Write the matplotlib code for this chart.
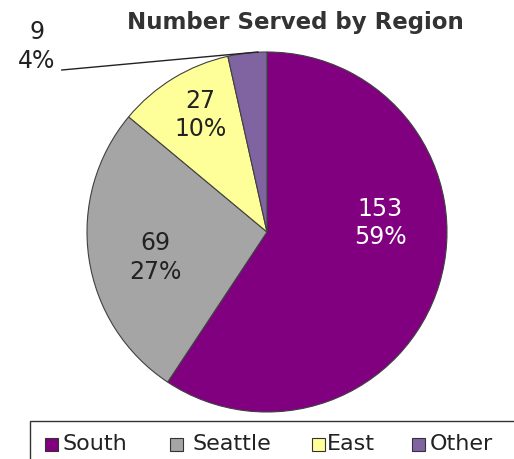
import matplotlib
matplotlib.use("Agg")
import matplotlib.pyplot as plt
from matplotlib.patches import Rectangle

# data
regions = ["South", "Seattle", "East", "Other"]
served = [153, 69, 27, 9]
pct_labels = ["59%", "27%", "10%", "4%"]
colors = ["#800080", "#A5A5A5", "#FFFF99", "#8064A2"]

W, H = 514, 459
fig = plt.figure(figsize=(W / 100, H / 100), dpi=100)
ax = fig.add_axes([87 / W, 47 / H, 360 / W, 360 / H])

wedges, _ = ax.pie(served, colors=colors, startangle=90, counterclock=False,
                   radius=1, wedgeprops=dict(edgecolor="#404040", linewidth=0.8))
ax.set_xlim(-1, 1)
ax.set_ylim(-1, 1)
ax.set_aspect("equal")
ax.axis("off")

# label placement (axes data units)
label_xy = [(0.63, 0.05), (-0.62, -0.14), (-0.37, 0.65), (-1.28, 1.03)]
label_colors = ["white", "#222222", "#222222", "#222222"]
for i, (x, y) in enumerate(label_xy):
    ax.text(x, y, f"{served[i]}\n{pct_labels[i]}", ha="center", va="center",
            fontsize=17, color=label_colors[i], linespacing=1.25,
            clip_on=False)

# leader line for the small slice
ax.plot([-1.14, -0.05], [0.90, 1.0], color="#222222", lw=1, clip_on=False)

fig.text(295 / W, 1 - 22 / H, "Number Served by Region", ha="center",
         va="center", fontsize=16.5, fontweight="bold", color="#333333")

# legend drawn by hand so it runs off the right/bottom edge like the original
fig.patches.append(Rectangle((30 / W, -0.05), 1.0, (459 - 421) / H + 0.05,
                             transform=fig.transFigure, facecolor="white",
                             edgecolor="#333333", lw=1))
box_x = [45, 170, 312, 412]
text_x = [62, 193, 327, 430]
for c, name, bx, tx in zip(colors, regions, box_x, text_x):
    fig.patches.append(Rectangle((bx / W, 1 - 451 / H), 13 / W, 13 / H,
                                 transform=fig.transFigure, facecolor=c,
                                 edgecolor="#333333", lw=0.8))
    fig.text(tx / W, 1 - 444 / H, name, ha="left", va="center",
             fontsize=16, color="#222222")

fig.savefig("out.png", dpi=100)
